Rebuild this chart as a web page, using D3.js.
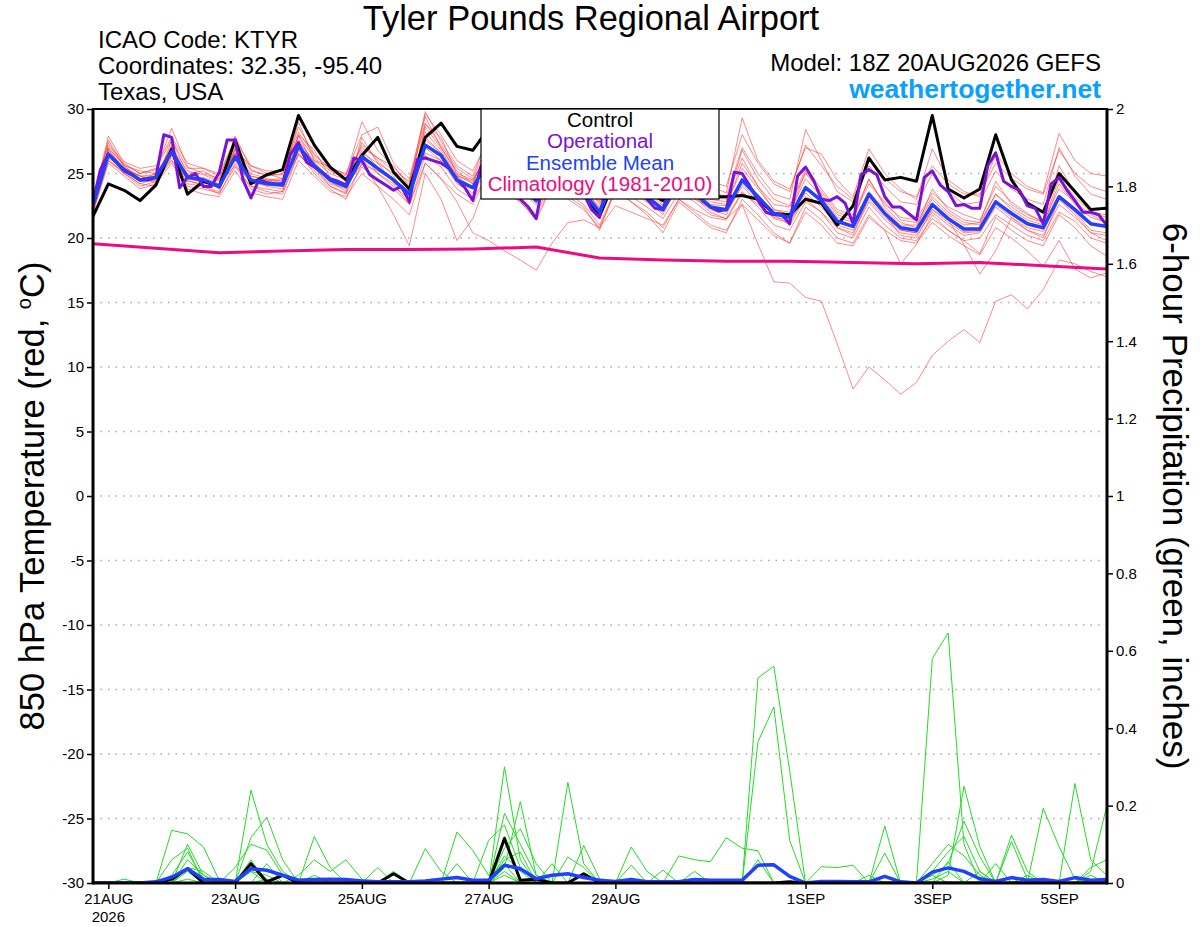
<!DOCTYPE html>
<html>
<head>
<meta charset="utf-8">
<script src="https://d3js.org/d3.v7.min.js"></script>
<style>
  body { margin: 0; background: #fff; font-family: 'Liberation Sans', Arial, sans-serif; }
  .tick text { font-family: 'Liberation Sans', Arial, sans-serif; }
</style>
</head>
<body>
<div id="chart"></div>
<script>
// ---- data: 6-hourly from 18Z 20AUG2026 (65 steps) ----
var xTickLabels = ["21AUG", "23AUG", "25AUG", "27AUG", "29AUG", "1SEP", "3SEP", "5SEP"];
var xTickDates = [[2026, 7, 21], [2026, 7, 23], [2026, 7, 25], [2026, 7, 27], [2026, 7, 29], [2026, 8, 1], [2026, 8, 3], [2026, 8, 5]];
var tempTicks = [-30, -25, -20, -15, -10, -5, 0, 5, 10, 15, 20, 25, 30];
var precipTicks = [0, 0.2, 0.4, 0.6, 0.8, 1, 1.2, 1.4, 1.6, 1.8, 2];

// 850 hPa temperature, ensemble members (deg C)
var memT01 = [22.8, 27.9,25.8,25.0,25.3, 28.5,25.5,25.0,24.6, 27.9,25.3,24.8,25.0, 28.6,26.5,25.3,24.8, 29.0,26.8,25.5,24.2, 29.8,27.5,25.6,24.8, 28.0,26.4,25.0,24.0, 27.0,25.5,24.5,23.2, 26.5,25.3,24.4,23.5, 26.0,25.0,24.0,23.5, 29.3,26.0,24.4,23.8, 27.0,26.5,24.5,23.2, 26.9,25.0,23.8,23.0, 26.9,24.5,23.6,23.2, 26.5,25.0,24.0,23.5, 28.1,26.0,25.0,24.8];
var memT02 = [23.0, 27.4,25.5,24.8,24.2, 27.6,24.9,24.6,23.8, 27.0,24.8,24.5,24.6, 28.0,26.8,24.7,23.9, 27.4,26.0,24.8,23.0, 28.8,27.8,24.9,24.2, 27.2,25.8,24.6,23.4, 26.2,24.9,23.8,22.8, 25.6,24.6,23.7,22.9, 25.0,24.2,23.2,23.0, 26.2,24.0,22.6,22.4, 25.4,23.8,22.2,21.8, 24.5,22.6,21.6,21.4, 23.5,22.4,21.8,21.4, 24.0,22.8,21.9,21.2, 24.6,23.2,22.0,21.8];
var memT03 = [22.0, 26.0,25.0,24.0,24.4, 26.0,24.0,23.8,23.5, 25.5,24.0,23.6,23.4, 26.5,25.2,24.0,23.5, 25.5,24.6,23.8,22.6, 26.4,25.5,23.8,23.0, 25.0,24.0,23.2,21.8, 24.6,23.5,22.6,21.0, 23.8,23.2,22.4,21.5, 23.5,22.8,21.8,21.5, 23.6,22.4,21.0,20.6, 22.8,22.0,20.4,20.0, 22.4,21.0,20.0,19.8, 21.5,20.6,19.8,20.0, 21.8,21.0,20.2,19.8, 22.0,21.3,20.0,19.6];
var memT04 = [22.3, 26.8,25.4,24.6,24.8, 27.2,24.6,24.3,23.9, 26.6,24.4,24.0,23.8, 27.6,25.8,24.6,24.2, 26.8,25.5,24.6,23.6, 27.8,26.6,24.4,24.0, 26.4,25.2,24.2,23.1, 25.4,24.6,23.6,22.4, 24.8,24.0,23.0,22.3, 24.0,23.2,22.0,21.5, 22.6,19.5,16.6,16.5, 15.4,15.1,11.8,8.3, 10.0,9.0,7.9,8.8, 10.9,12.0,12.9,11.9, 15.1,15.6,14.5,16.0, 18.3,18.0,17.4,17.0];
var memT05 = [22.5, 27.0,25.6,25.2,25.0, 26.2,25.0,25.2,24.5, 26.8,25.6,25.0,24.6, 29.0,26.0,25.5,24.9, 27.0,26.2,25.6,24.0, 29.4,27.0,25.0,24.5, 26.6,25.6,24.6,23.5, 26.0,25.0,24.4,22.6, 25.4,24.8,24.0,22.6, 25.2,24.4,23.0,22.8, 26.8,24.6,23.0,22.5, 25.0,23.6,22.0,21.6, 24.2,22.8,21.4,21.2, 23.2,22.0,21.2,21.0, 23.4,22.4,21.6,21.2, 23.8,22.8,21.8,21.2];
var memT06 = [22.1, 26.2,25.0,24.2,24.6, 26.5,24.4,24.2,24.2, 26.0,24.2,24.3,24.0, 26.8,25.4,24.2,23.8, 26.0,25.0,24.0,23.0, 27.0,26.0,24.2,23.5, 25.5,24.6,23.6,22.6, 25.0,24.0,23.2,21.8, 24.4,23.6,22.8,22.0, 24.0,23.0,22.4,22.0, 24.0,22.8,21.5,21.2, 23.5,22.4,21.0,20.6, 23.0,21.6,20.6,20.4, 22.2,21.2,20.4,20.5, 22.6,21.6,20.8,20.5, 23.0,22.0,20.6,20.4];
var memT07 = [22.6, 26.6,25.2,24.4,24.5, 26.9,24.8,24.6,23.8, 26.4,24.6,24.2,24.2, 27.3,25.6,24.4,23.6, 26.6,25.0,24.2,22.6, 25.8,24.6,22.8,20.4, 19.8,19.0,18.3,17.5, 19.6,21.2,21.4,20.8, 22.5,22.0,21.5,21.0, 23.0,22.2,21.6,21.4, 23.5,22.6,21.6,21.4, 23.0,22.0,20.8,20.4, 22.8,21.4,20.4,20.2, 22.0,21.0,20.2,20.4, 22.4,21.4,20.6,20.2, 22.6,21.6,20.4,20.2];
var memT08 = [22.9, 27.6,25.6,24.6,24.4, 27.0,24.5,24.0,23.6, 26.9,24.0,23.8,23.6, 28.0,25.5,24.0,23.4, 27.8,25.8,24.3,23.1, 28.6,27.0,25.2,24.2, 27.0,25.4,24.4,23.3, 26.6,24.8,23.8,22.3, 25.6,24.2,23.3,22.4, 24.8,23.8,22.6,22.5, 25.8,24.0,22.2,21.8, 25.2,23.4,21.8,21.4, 24.6,22.4,21.2,20.8, 23.8,22.2,21.4,21.2, 24.4,22.6,21.8,21.3, 25.6,23.5,22.0,21.6];
var memT09 = [21.8, 25.8,24.8,23.8,24.2, 25.8,23.8,23.4,23.2, 25.2,23.5,23.2,23.0, 26.0,24.8,23.6,23.2, 25.0,24.0,23.0,21.8, 25.8,24.6,23.4,22.6, 25.0,23.8,22.8,21.6, 24.2,23.0,22.2,20.8, 23.6,22.8,22.0,20.8, 23.0,22.0,21.0,20.6, 22.6,21.4,20.2,19.6, 22.4,21.4,20.0,19.6, 21.8,20.6,19.8,19.6, 21.2,20.2,19.4,18.7, 20.8,20.0,19.0,17.8, 19.8,17.6,16.9,17.3];
var memT10 = [22.4, 26.4,25.4,24.8,24.9, 27.0,25.2,24.9,24.4, 26.6,25.0,24.6,24.4, 27.4,26.0,25.0,24.5, 26.6,25.8,25.0,23.8, 28.2,26.8,24.8,24.4, 26.8,25.5,24.3,23.6, 26.2,24.8,24.0,22.2, 25.4,24.4,23.6,22.5, 25.2,24.0,22.8,22.6, 25.4,23.8,22.2,22.0, 24.6,23.2,21.6,21.2, 23.6,22.2,21.0,21.0, 23.0,21.8,21.0,21.2, 23.4,22.2,21.4,21.0, 24.2,22.6,21.6,21.2];
var memT11 = [22.0, 26.0,25.1,24.2,24.0, 26.4,24.2,24.0,23.4, 25.8,23.8,23.4,23.6, 26.6,25.0,23.8,23.0, 25.8,24.0,21.8,19.4, 25.0,23.0,19.8,21.5, 24.8,23.6,22.8,21.4, 24.0,23.2,22.4,20.6, 23.8,22.8,21.8,20.4, 22.8,21.8,20.8,20.4, 23.0,21.8,20.4,19.6, 22.0,21.0,19.6,19.4, 21.6,20.6,18.0,19.5, 21.8,20.6,19.8,18.8, 21.6,20.6,19.8,19.4, 21.8,20.8,19.4,18.6];
var memT12 = [23.2, 27.2,25.9,25.4,25.6, 27.8,25.8,25.4,25.0, 27.6,25.6,25.2,25.2, 28.2,26.4,25.4,25.0, 28.0,28.6,25.8,24.6, 29.6,28.0,26.0,25.2, 27.6,26.2,25.2,24.4, 27.4,25.8,25.0,23.4, 26.8,25.6,24.8,23.8, 27.6,25.8,24.4,24.0, 28.0,25.8,24.2,23.6, 27.2,25.6,24.0,23.0, 26.2,24.6,23.6,23.2, 25.6,24.2,23.4,23.4, 25.8,24.6,23.8,23.4, 26.8,25.0,24.0,23.6];
var memT13 = [22.7, 27.0,25.7,25.0,25.4, 27.6,25.4,25.4,24.8, 27.2,25.2,24.9,24.9, 27.9,26.2,25.2,24.6, 27.2,26.2,25.2,24.4, 28.9,27.2,25.4,24.6, 27.4,26.0,24.8,23.8, 26.8,25.4,24.6,22.9, 26.0,25.0,24.2,23.0, 25.8,24.6,23.6,23.2, 27.0,25.0,23.4,23.0, 28.4,26.0,23.6,22.8, 25.6,24.0,22.8,22.6, 25.0,23.6,22.6,22.8, 25.2,23.8,23.0,22.6, 27.0,24.8,23.4,23.0];
var memT14 = [22.2, 26.3,25.2,24.5,25.0, 26.0,24.6,24.7,24.2, 25.6,24.4,24.4,24.5, 26.4,25.6,24.6,24.1, 25.7,25.2,24.6,23.6, 26.6,26.0,24.7,23.8, 25.8,24.8,23.8,22.8, 25.2,24.2,23.4,21.6, 24.6,23.8,23.0,21.8, 24.2,23.2,22.2,21.8, 24.2,23.0,21.8,21.0, 23.2,22.6,20.8,20.2, 23.2,21.8,20.2,20.0, 22.2,21.4,19.5,17.2, 19.0,21.6,20.6,20.0, 23.0,21.8,20.4,19.8];
var memT15 = [22.5, 26.9,25.3,24.8,24.6, 26.4,24.9,24.4,24.0, 26.2,24.8,24.5,24.3, 27.2,25.9,24.6,24.2, 26.4,25.4,24.6,23.4, 27.6,26.6,24.8,23.9, 26.2,25.0,23.9,22.8, 25.6,24.4,23.4,21.9, 24.9,24.0,23.1,22.1, 24.4,23.5,22.4,22.1, 24.6,23.2,21.8,21.5, 24.0,23.0,21.2,20.8, 23.4,21.8,20.6,20.4, 22.5,21.4,20.5,20.6, 22.8,21.8,21.0,20.7, 23.2,22.1,21.0,20.8];
var memT16 = [22.4, 26.7,25.4,24.6,24.8, 27.0,24.7,24.4,23.9, 26.5,24.5,24.1,24.0, 27.3,25.7,24.3,23.9, 26.5,25.3,24.4,23.3, 27.3,26.5,24.6,23.9, 26.0,24.9,24.0,22.9, 25.4,24.2,23.4,22.0, 24.6,24.0,23.2,22.1, 24.1,23.4,22.5,22.2, 24.5,23.2,21.9,21.6, 23.8,22.8,21.3,20.9, 23.2,21.8,20.8,20.6, 22.6,21.5,20.7,20.7, 22.8,21.9,21.1,20.8, 23.3,22.2,21.1,20.9];

var controlT = [21.6, 24.2,23.7,22.9,24.1, 26.9,23.4,24.4,24.0, 27.6,24.2,24.9,25.3, 29.5,27.2,25.5,24.5, 26.4,27.8,25.1,23.8, 27.8,28.9,27.1,26.8, 28.5,26.5,24.8,23.2, 25.8,24.6,23.4,21.7, 24.6,24.2,23.6,22.9, 23.5,23.3,23.2,23.2, 23.3,23.0,21.9,21.8, 23.0,22.7,21.0,22.5, 26.2,24.5,24.7,24.4, 29.5,23.8,23.1,23.8, 28.0,24.5,22.7,22.0, 25.0,23.6,22.2,22.3];
var meanT = [22.4, 26.5,25.3,24.5,24.7, 26.7,24.7,24.5,24.0, 26.3,24.5,24.2,24.1, 27.1,25.6,24.5,24.0, 26.3,25.4,24.5,23.4, 27.2,26.4,24.5,23.9, 26.0,25.0,24.0,22.9, 25.5,24.3,23.5,22.0, 24.8,24.0,23.2,22.2, 24.3,23.5,22.4,22.2, 24.5,23.2,21.9,21.6, 23.9,22.9,21.3,20.9, 23.4,21.9,20.8,20.6, 22.6,21.5,20.7,20.7, 22.8,21.9,21.1,20.8, 23.2,22.2,21.1,20.9];
// operational run is 3-hourly (129 steps)
var operT = [22.6,25.3,26.5,25.9,25.2,24.9,24.5,24.5,
  24.7,28.0,27.8,23.9,24.7,25.0,24.0,24.0,
  25.1,27.6,27.6,24.5,23.1,24.5,24.3,24.2,
  24.2,26.5,27.4,25.9,25.5,25.1,24.6,24.4,
  24.1,26.2,26.0,24.9,24.5,24.1,23.7,24.0,
  22.8,26.1,26.2,26.0,25.8,25.4,24.5,23.9,
  22.9,25.5,26.5,26.0,25.2,24.0,23.0,22.4,
  21.5,24.8,26.0,25.5,24.8,24.0,23.4,22.2,
  21.6,24.5,25.6,25.2,24.6,23.8,23.0,22.3,
  22.2,24.2,24.8,24.3,23.6,22.9,22.4,22.1,
  22.2,25.1,25.0,24.0,22.9,22.0,21.8,21.8,
  21.1,24.8,25.5,24.5,23.0,22.9,23.2,22.7,
  21.1,24.9,25.3,24.9,23.2,22.4,22.4,21.9,
  21.4,24.7,25.2,24.1,23.6,22.5,22.6,22.3,
  22.3,25.6,26.6,24.4,24.0,23.7,22.5,22.3,
  21.1,24.2,24.7,23.7,22.9,22.0,22.0,21.8,
  21.0];
// climatology, one value per day (every 4th step)
var climoT = [19.55, 19.2, 18.85, 19.0, 19.1, 19.1, 19.15, 19.3, 18.45, 18.3, 18.2, 18.2, 18.1, 18.0, 18.1, 17.85, 17.6];

// 6-hour precipitation (inches), ensemble members
var memP01 = [0,0,0,0,0,.136,.127,.093,.007,0,0,0,0,0,0,0, 0,0,0,0,0,0,0,0,0,0,.02,0,0,0,0,0, 0,0,0,0,0,0,0,0,0,0,.53,.56,.29,0,0,0, 0,0,0,0,0,.01,.03,0,0,0,0,0,0,0,0,0,0];
var memP02 = [0,0,0,0,0,.02,.08,.01,0,0,.24,.10,.03,0,0,0, 0,0,0,0,0,0,0,0,0,0,.07,.03,0,0,0,0, 0,0,0,0,0,0,0,0,0,0,.365,.455,.11,0,0,0, 0,0,.02,0,0,0,0,0,0,0,0,.01,0,0,0,0,0];
var memP03 = [0,0,0,0,0,0,.06,.02,0,0,.117,.17,.06,0,0,0, 0,0,0,0,0,0,0,0,0,0,0,0,0,0,.26,.05, 0,0,0,0,0,0,0,0,0,0,0,0,0,0,0,0, 0,0,0,0,0,.58,.646,.10,0,0,0,0,0,0,0,0,0];
var memP04 = [0,0,0,0,0,0,0,0,0,.04,.10,.085,.02,0,.12,.04, 0,0,0,0,0,0,0,0,0,0,.30,.06,0,0,0,0, 0,0,0,0,0,0,0,0,0,0,0,0,0,0,0,0, 0,0,0,0,0,0,.02,.25,.094,0,0,0,0,0,0,0,0];
var memP05 = [0,0,0,0,0,0,.01,0,0,0,0,0,0,.02,.06,.03, .06,.01,0,0,0,0,0,0,0,0,.04,.21,.02,0,0,0, 0,0,0,0,0,0,0,0,0,0,0,0,0,0,0,0, 0,0,.147,0,0,0,0,0,0,0,0,.02,0,0,.257,.06,.02];
var memP06 = [0,0,0,0,0,0,0,0,0,0,.03,.02,0,0,0,0, 0,0,0,0,0,.089,.03,0,0,0,.18,.10,.02,0,0,0, 0,0,.093,.03,0,0,0,0,0,0,0,0,0,0,0,0, 0,0,0,0,0,0,0,0,0,0,0,0,.193,.094,.01,0,0];
var memP07 = [0,0,0,0,0,0,0,0,0,0,0,.01,0,0,0,0, 0,0,0,0,0,0,0,.132,.084,.02,.05,0,0,0,0,0, 0,0,0,0,0,.07,.06,.055,.117,.09,.083,0,0,0,0,0, 0,0,0,0,0,0,0,0,0,0,0,0,0,0,0,.03,.197];
var memP08 = [0,0,0,0,0,0,.03,0,0,0,0,0,0,0,0,0, 0,0,0,0,0,0,0,0,0,.11,.15,.04,0,0,0,0, 0,0,.01,0,0,0,0,0,0,0,0,0,0,0,0,0, 0,0,0,0,0,.02,.05,.16,.068,0,.124,.03,0,0,0,0,0];
var memP09 = [0,0,0,0,0,0,0,0,0,0,0,0,0,0,.02,0, 0,0,0,0,0,0,0,0,0,0,.09,.14,.05,0,0,.097, .011,0,0,0,0,0,0,0,0,0,0,0,0,0,0,0, 0,0,.077,0,0,0,0,0,0,0,.107,.01,0,0,0,0,0];
var memP10 = [0,0,0,0,0,0,.04,0,0,0,0,0,0,0,0,0, 0,0,0,0,0,0,0,0,0,0,.03,0,0,0,.067,.04, 0,0,.046,0,0,0,0,0,0,0,0,0,0,0,0,0, 0,0,0,0,0,.05,.10,.07,.02,0,0,0,0,0,0,.02,0];
var memP11 = [0,0,0,0,0,0,.04,.03,0,0,0,0,0,0,0,0, 0,0,0,.03,0,0,0,0,0,0,.12,0,0,0,0,0, 0,0,0,0,.033,0,0,0,0,0,0,0,0,0,0,0, 0,.02,0,0,0,0,.055,0,0,.05,0,0,0,0,0,0,0];
var memP12 = [0,0,.01,0,0,.06,.09,0,0,0,.06,0,0,0,0,0, 0,0,0,0,0,0,0,.05,0,0,0,0,0,0,0,0, 0,0,0,0,0,0,0,0,0,0,.06,0,0,0,0,0, 0,0,0,0,0,0,0,0,.03,0,0,0,0,0,0,.04,.06];
var memP13 = [0,0,0,0,0,0,0,0,0,0,.03,0,0,0,0,0, 0,0,.04,0,0,0,0,0,0,0,.06,.08,0,0,0,0, 0,0,0,0,0,0,0,0,0,0,0,0,0,0,.042,.04, .046,0,0,0,0,.02,0,0,0,0,0,0,0,0,0,0,0];
var memP14 = [0,0,0,0,0,0,.10,.02,0,0,0,.05,0,0,0,0, 0,0,0,0,0,0,0,0,0,0,0,0,0,.05,0,0, 0,0,0,0,0,0,.03,0,0,0,0,0,0,0,0,0, 0,0,0,0,0,.03,.08,.12,.03,0,0,0,0,0,0,0,0];

var controlP = [0,0,0,0,0,.01,.037,0,0,0,.05,.003,.02,0,0,0, 0,0,0,.024,0,0,0,0,0,0,.115,.007,.01,0,0,.024, 0,0,0,0,0,0,0,0,0,0,0,0,.003,0,0,0, 0,0,0,0,0,0,0,0,0,0,0,0,0,0,0,0,0];
var meanP = [0,0,0,0,.003,.015,.037,.01,.009,.004,.037,.033,.02,.007,.009,.01, .009,.005,.003,.003,.003,.005,.01,.014,.007,.007,.046,.037,.011,.02,.024,.014, .007,.004,.009,.003,.003,.003,.009,.007,.007,.007,.046,.047,.017,0,.004,.004, .003,.003,.017,.003,0,.028,.039,.03,.011,.004,.014,.007,.009,.004,.014,.007,.009];

var tempMembers = [memT01, memT02, memT03, memT04, memT05, memT06, memT07, memT08,
                   memT09, memT10, memT11, memT12, memT13, memT14, memT15, memT16];
var precipMembers = [memP01, memP02, memP03, memP04, memP05, memP06, memP07,
                     memP08, memP09, memP10, memP11, memP12, memP13, memP14];

// ---- layout ----
var width = 1200, height = 927;
var plot = { left: 93, right: 1107, top: 109, bottom: 883 };
var font = "'Liberation Sans', Arial, sans-serif";

var svg = d3.select("#chart")
  .append("svg")
  .attr("width", width)
  .attr("height", height)
  .style("font-family", font);

var t0 = Date.UTC(2026, 7, 20, 18);
var HOUR = 3600 * 1000;
function step6(i) { return new Date(t0 + i * 6 * HOUR); }
function step3(j) { return new Date(t0 + j * 3 * HOUR); }

var x = d3.scaleUtc()
  .domain([step6(0), step6(64)])
  .range([plot.left - 0.5, plot.right - 0.4]);
var yT = d3.scaleLinear().domain([-30, 30]).range([plot.bottom, plot.top]);
var yP = d3.scaleLinear().domain([0, 2]).range([plot.bottom, plot.top]);

svg.append("clipPath").attr("id", "clip")
  .append("rect")
  .attr("x", plot.left).attr("y", plot.top - 2)
  .attr("width", plot.right - plot.left).attr("height", plot.bottom - plot.top + 2);

// dotted grid
svg.append("g")
  .selectAll("line")
  .data(tempTicks.filter(function (d) { return d > -30 && d < 30; }))
  .enter().append("line")
  .attr("x1", plot.left).attr("x2", plot.right)
  .attr("y1", function (d) { return yT(d); })
  .attr("y2", function (d) { return yT(d); })
  .attr("stroke", "#aaa")
  .attr("stroke-width", 1.5)
  .attr("stroke-dasharray", "1.5,6");

var lines = svg.append("g").attr("clip-path", "url(#clip)");

var line6T = d3.line().x(function (d, i) { return x(step6(i)); }).y(function (d) { return yT(d); });
var line3T = d3.line().x(function (d, j) { return x(step3(j)); }).y(function (d) { return yT(d); });
var line6P = d3.line().x(function (d, i) { return x(step6(i)); }).y(function (d) { return yP(d); });
var lineClimo = d3.line().x(function (d, k) { return x(step6(k * 4)); }).y(function (d) { return yT(d); });

// ensemble members
lines.append("g").selectAll("path")
  .data(tempMembers).enter().append("path")
  .attr("d", line6T)
  .attr("fill", "none")
  .attr("stroke", "#ff2a2a")
  .attr("stroke-opacity", 0.55)
  .attr("stroke-width", 1);

lines.append("g").selectAll("path")
  .data(precipMembers).enter().append("path")
  .attr("d", line6P)
  .attr("fill", "none")
  .attr("stroke", "#22dd22")
  .attr("stroke-width", 1);

// control, operational, mean, climatology
function thick(d, gen, color, w) {
  lines.append("path")
    .datum(d)
    .attr("d", gen)
    .attr("fill", "none")
    .attr("stroke", color)
    .attr("stroke-width", w)
    .attr("stroke-linejoin", "round");
}
thick(controlP, line6P, "#000", 3);
thick(controlT, line6T, "#000", 3);
thick(operT, line3T, "#7a12d8", 3);
thick(meanT, line6T, "#2040ff", 3.5);
thick(meanP, line6P, "#2040ff", 3.5);
thick(climoT, lineClimo, "#ee0a80", 3);

// frame
svg.append("rect")
  .attr("x", plot.left).attr("y", plot.top)
  .attr("width", plot.right - plot.left).attr("height", plot.bottom - plot.top)
  .attr("fill", "none").attr("stroke", "#000").attr("stroke-width", 2);
svg.append("line").attr("x1", plot.left).attr("x2", plot.left).attr("y1", plot.top).attr("y2", plot.bottom + 1.5)
  .attr("stroke", "#000").attr("stroke-width", 3);
svg.append("line").attr("x1", plot.right).attr("x2", plot.right).attr("y1", plot.top).attr("y2", plot.bottom + 1.5)
  .attr("stroke", "#000").attr("stroke-width", 3);
svg.append("line").attr("x1", plot.left).attr("x2", plot.right).attr("y1", plot.bottom).attr("y2", plot.bottom)
  .attr("stroke", "#000").attr("stroke-width", 3);

// axes
var axL = svg.append("g").attr("transform", "translate(" + plot.left + ",0)")
  .call(d3.axisLeft(yT).tickValues(tempTicks).tickSize(6).tickSizeOuter(0)
    .tickFormat(function (d) { return String(d); }));
var axR = svg.append("g").attr("transform", "translate(" + plot.right + ",0)")
  .call(d3.axisRight(yP).tickValues(precipTicks).tickSize(6).tickSizeOuter(0)
    .tickFormat(d3.format("~g")));
var axB = svg.append("g").attr("transform", "translate(0," + plot.bottom + ")")
  .call(d3.axisBottom(x)
    .tickValues(xTickDates.map(function (d) { return new Date(Date.UTC(d[0], d[1], d[2])); }))
    .tickFormat(function (d, i) { return xTickLabels[i]; })
    .tickSize(6).tickSizeOuter(0));

[axL, axR, axB].forEach(function (a) {
  a.select(".domain").remove();
  a.selectAll(".tick line").attr("stroke", "#000").attr("stroke-width", 1.5);
  a.selectAll(".tick text").attr("fill", "#000").style("font-size", "15px");
});
axL.selectAll(".tick text").attr("x", -9);
axR.selectAll(".tick text").attr("x", 9);
axB.selectAll(".tick text").attr("y", 10).attr("dy", "0.71em");

svg.append("text")
  .attr("x", x(new Date(Date.UTC(2026, 7, 21))))
  .attr("y", 922)
  .attr("text-anchor", "middle")
  .style("font-size", "15px")
  .text("2026");

// axis titles
var yl = svg.append("text")
  .attr("transform", "translate(44," + ((plot.top + plot.bottom) / 2) + ") rotate(-90)")
  .attr("text-anchor", "middle")
  .style("font-size", "34.5px");
yl.append("tspan").text("850 hPa Temperature (red, ");
yl.append("tspan").attr("dy", -13).style("font-size", "20px").text("o");
yl.append("tspan").attr("dy", 13).text("C)");

svg.append("text")
  .attr("transform", "translate(1163," + ((plot.top + plot.bottom) / 2) + ") rotate(90)")
  .attr("text-anchor", "middle")
  .style("font-size", "35px")
  .text("6-hour Precipitation (green, inches)");

// legend
var lg = svg.append("g");
lg.append("rect")
  .attr("x", 481).attr("y", plot.top)
  .attr("width", 238).attr("height", 90)
  .attr("fill", "#fff").attr("stroke", "#000").attr("stroke-width", 1.2);
var legendItems = [
  { label: "Control", color: "#000" },
  { label: "Operational", color: "#7a12d8" },
  { label: "Ensemble Mean", color: "#2040ff" },
  { label: "Climatology (1981-2010)", color: "#ee0a80" }
];
lg.selectAll("text.lg").data(legendItems).enter().append("text")
  .attr("x", 600)
  .attr("y", function (d, i) { return 127 + i * 21.3; })
  .attr("text-anchor", "middle")
  .style("font-size", "20.5px")
  .attr("fill", function (d) { return d.color; })
  .text(function (d) { return d.label; });

// header texts
svg.append("text").attr("x", 591).attr("y", 30).attr("text-anchor", "middle")
  .style("font-size", "34.5px").text("Tyler Pounds Regional Airport");
svg.append("text").attr("x", 98).attr("y", 48).style("font-size", "24px").text("ICAO Code: KTYR");
svg.append("text").attr("x", 98).attr("y", 74).style("font-size", "24px").text("Coordinates: 32.35, -95.40");
svg.append("text").attr("x", 98).attr("y", 100).style("font-size", "24px").text("Texas, USA");
svg.append("text").attr("x", 1101).attr("y", 71).attr("text-anchor", "end")
  .style("font-size", "24px").text("Model: 18Z 20AUG2026 GEFS");
svg.append("text").attr("x", 1101).attr("y", 98).attr("text-anchor", "end")
  .style("font-size", "26.5px").style("font-weight", "bold").attr("fill", "#0aa0ff")
  .text("weathertogether.net");
</script>
</body>
</html>
